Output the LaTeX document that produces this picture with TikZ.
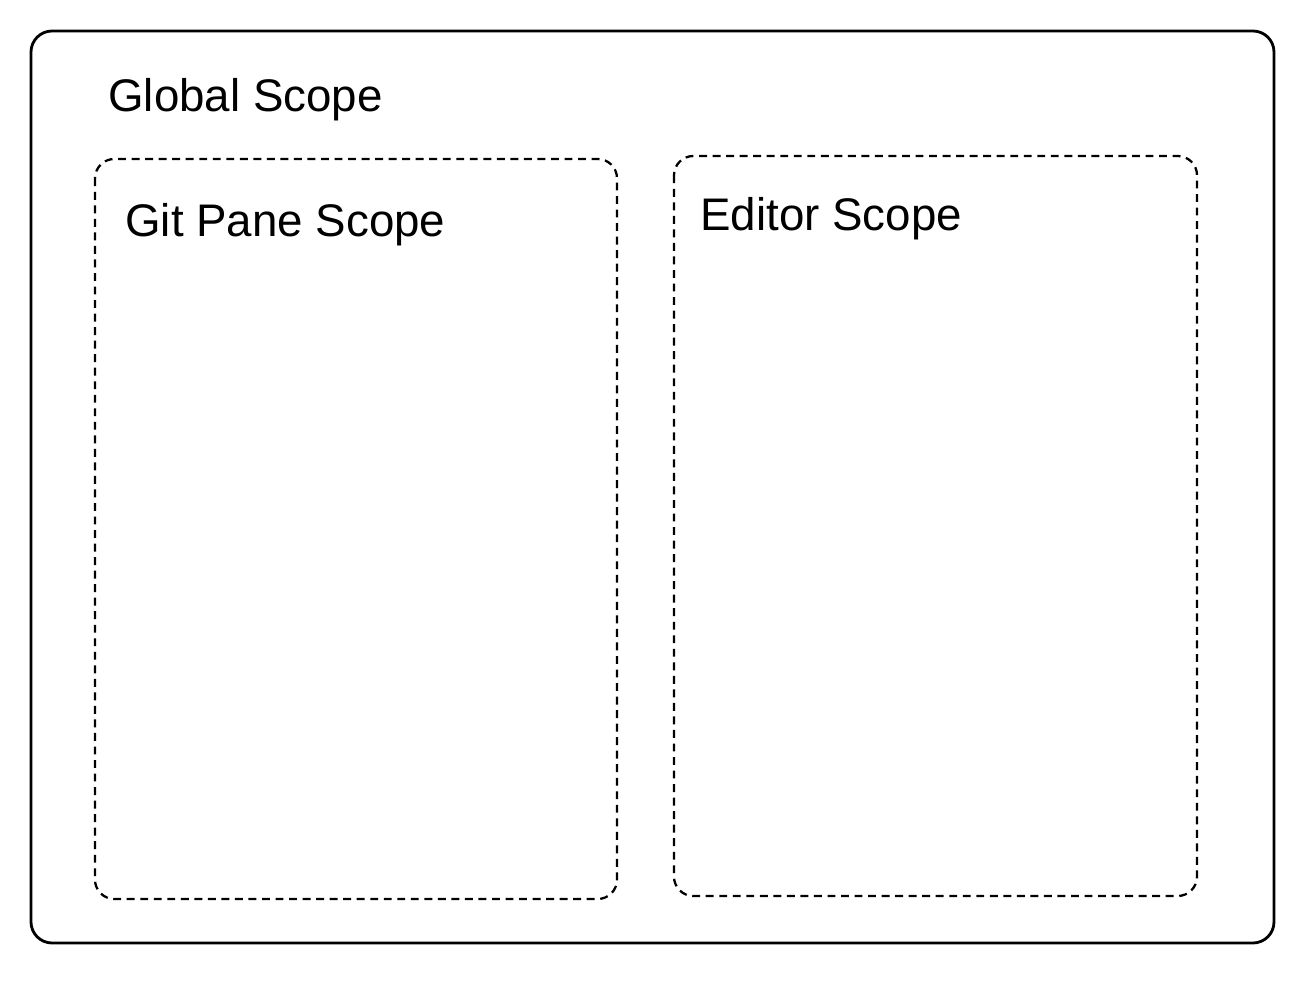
\documentclass[tikz,border=0pt]{standalone}
\usepackage{fontspec}
\setmainfont{Liberation Sans}

\begin{document}
\begin{tikzpicture}[x=0.02cm, y=-0.02cm, every node/.style={font=\fontsize{26}{30}\selectfont, anchor=base west, inner sep=0pt}]

\useasboundingbox (0,0) rectangle (1312,996);

\draw[line width=1.6pt, rounded corners=12pt] (31,31) rectangle (1274,943);
\draw[line width=1.3pt, dash pattern=on 4.5pt off 3.2pt, rounded corners=11pt] (95,159) rectangle (617,899);
\draw[line width=1.3pt, dash pattern=on 4.5pt off 3.2pt, rounded corners=11pt] (674,156) rectangle (1197,896);

\node (global) at (108,112) {Global Scope};
\node (gitpane) at (125,237) {Git Pane Scope};
\node (editor) at (700,231) {Editor Scope};

\end{tikzpicture}
\end{document}
